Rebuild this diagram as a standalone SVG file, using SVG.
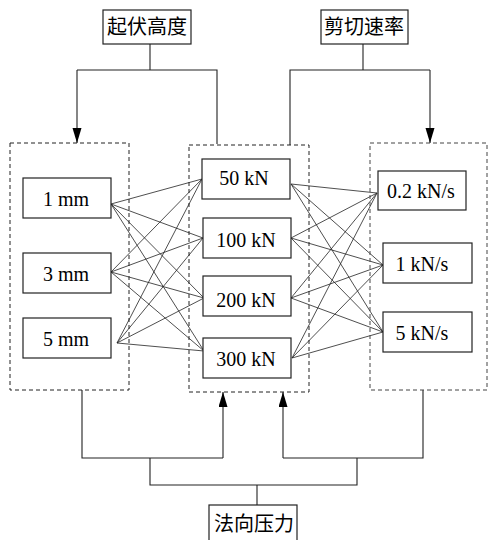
<svg xmlns="http://www.w3.org/2000/svg" width="489" height="540" viewBox="0 0 489 540">
<style>
.box{fill:#fff;stroke:#222;stroke-width:1.2}
.grp{fill:none;stroke:#222;stroke-width:1;stroke-dasharray:4,3}
.conn{fill:none;stroke:#222;stroke-width:1.1}
.x{fill:none;stroke:#222;stroke-width:0.8}
.cjk{font-family:"Noto Sans CJK SC","Noto Sans",sans-serif;font-size:20px;fill:#000;text-anchor:middle}
.lat{font-family:"Liberation Serif","Times New Roman",serif;font-size:20px;fill:#000;text-anchor:middle}
</style>
<defs>
<marker id="arr" markerUnits="userSpaceOnUse" markerWidth="15" markerHeight="10" refX="15" refY="4.5" orient="auto">
<path d="M0,0 L15,4.5 L0,9 z" fill="#000"/>
</marker>
</defs>
<rect width="489" height="540" fill="#fff"/>
<g id="connectors">
<path class="conn" d="M150,44 V70"/>
<path class="conn" d="M77,70 H217 V144"/>
<path class="conn" d="M77,70 V143" marker-end="url(#arr)"/>
<path class="conn" d="M363,44 V70"/>
<path class="conn" d="M430,70 H290 V145"/>
<path class="conn" d="M430,70 V143" marker-end="url(#arr)"/>
<path class="conn" d="M82,390 V458 H223"/>
<path class="conn" d="M223,458 V392" marker-end="url(#arr)"/>
<path class="conn" d="M423,390 V458 H283"/>
<path class="conn" d="M283,458 V392" marker-end="url(#arr)"/>
<path class="conn" d="M150,458 V485 H357 V458"/>
<path class="conn" d="M257,485 V505"/>
<g id="cross-left">
<path class="x" d="M111,204 L202,179 M111,204 L203,238 M111,204 L204,298 M111,204 L204,351"/>
<path class="x" d="M111,272 L202,179 M111,272 L203,238 M111,272 L204,298 M111,272 L204,351"/>
<path class="x" d="M117,343 L202,179 M117,343 L203,238 M117,343 L204,298 M117,343 L204,351"/>
</g>
<g id="cross-right">
<path class="x" d="M291,184 L377,193 M291,184 L383,265 M291,184 L383,332"/>
<path class="x" d="M291,238 L377,193 M291,238 L383,265 M291,238 L383,332"/>
<path class="x" d="M291,298 L377,193 M291,298 L383,265 M291,298 L383,332"/>
<path class="x" d="M292,358 L377,193 M292,358 L383,265 M292,358 L383,332"/>
</g>
</g>
<g id="group-height"><rect class="grp" x="10" y="143" width="119" height="247"/></g>
<g id="group-force"><rect class="grp" x="189" y="145" width="120" height="247"/></g>
<g id="group-rate"><rect class="grp" x="370" y="143" width="117" height="247" style="stroke:#444"/></g>
<g id="node-qifu"><rect class="box" x="103" y="10" width="88" height="34"/><text class="cjk" x="147" y="34">起伏高度</text></g>
<g id="node-jianqie"><rect class="box" x="321" y="10" width="87" height="34"/><text class="cjk" x="364" y="34">剪切速率</text></g>
<g id="node-faxiang"><rect class="box" x="209" y="505" width="88" height="45"/><text class="cjk" x="254" y="531">法向压力</text></g>
<g id="node-1mm"><rect class="box" x="23" y="178" width="88" height="40"/><text class="lat" x="66" y="206">1 mm</text></g>
<g id="node-3mm"><rect class="box" x="23" y="253" width="88" height="40"/><text class="lat" x="66" y="280.5">3 mm</text></g>
<g id="node-5mm"><rect class="box" x="23" y="318" width="88" height="40"/><text class="lat" x="66" y="346">5 mm</text></g>
<g id="node-50kN"><rect class="box" x="202" y="159" width="88" height="40"/><text class="lat" x="244" y="185">50 kN</text></g>
<g id="node-100kN"><rect class="box" x="203" y="218" width="88" height="40"/><text class="lat" x="246" y="246.5">100 kN</text></g>
<g id="node-200kN"><rect class="box" x="203" y="276" width="88" height="40"/><text class="lat" x="246" y="306.5">200 kN</text></g>
<g id="node-300kN"><rect class="box" x="203" y="338" width="88" height="40"/><text class="lat" x="246" y="366">300 kN</text></g>
<g id="node-02kNs"><rect class="box" x="378" y="171" width="88" height="39"/><text class="lat" x="421" y="198">0.2 kN/s</text></g>
<g id="node-1kNs"><rect class="box" x="383" y="243" width="89" height="40"/><text class="lat" x="422" y="271">1 kN/s</text></g>
<g id="node-5kNs"><rect class="box" x="383" y="312" width="89" height="40"/><text class="lat" x="422" y="340">5 kN/s</text></g>
</svg>
